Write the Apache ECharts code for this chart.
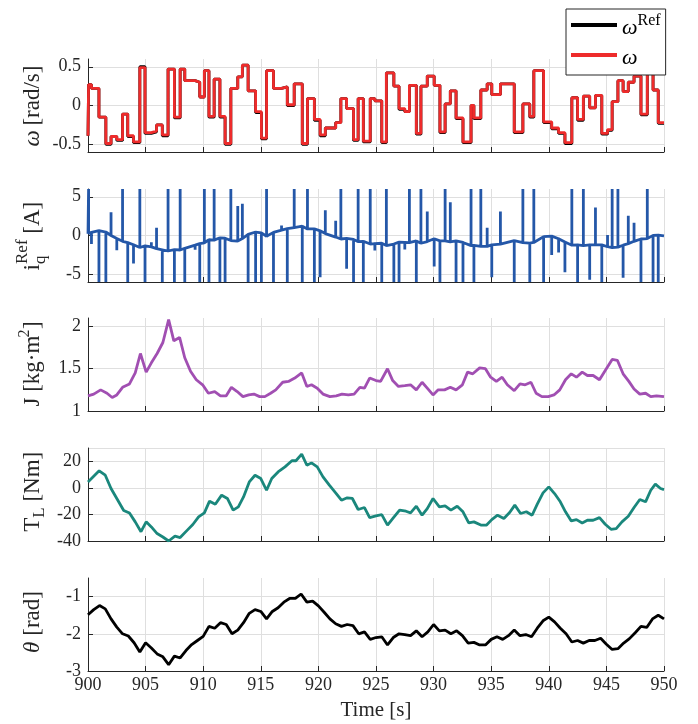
<!DOCTYPE html>
<html>
<head>
<meta charset="utf-8">
<script src="https://cdn.jsdelivr.net/npm/echarts@6/dist/echarts.min.js"></script>
<style>
  html, body { margin: 0; padding: 0; background: #fff; }
  #chart { width: 698px; height: 724px; }
</style>
</head>
<body>
<div id="chart"></div>
<script>
// ---- speed reference: start time of each constant step [s] and its level [rad/s]
const stepTimes = [900, 900.05, 900.3, 900.95, 901.55, 902.0, 902.5, 903.0, 903.45, 903.95,
  904.5, 904.95, 905.5, 905.95, 906.45, 906.95, 907.5, 908.0, 908.4, 909.3,
  909.7, 910.1, 910.5, 910.95, 911.45, 911.9, 912.4, 913.0, 913.4, 913.9,
  914.55, 915.05, 915.5, 916.1, 916.8, 917.3, 917.9, 918.6, 919.05, 919.65,
  920.15, 920.6, 921.5, 921.95, 922.45, 923.05, 923.45, 923.9, 924.5, 924.9,
  925.5, 925.9, 926.55, 927.0, 927.5, 927.9, 928.5, 928.9, 929.45, 930.05,
  930.55, 931.0, 931.45, 931.95, 932.55, 933.25, 933.5, 934.1, 934.65, 935.05,
  935.8, 937.0, 937.75, 938.35, 938.7, 939.55, 940.25, 940.85, 941.4, 942.0,
  942.5, 943.0, 943.55, 944.05, 944.6, 945.1, 945.5, 946.0, 946.45, 946.9,
  947.4, 948.0, 948.55, 949.05, 949.5];
const omegaRef = [-0.39, 0.27, 0.22, -0.15, -0.50, -0.40, -0.45, -0.11, -0.40, -0.48,
  0.50, -0.36, -0.34, -0.25, -0.39, 0.47, -0.16, 0.47, 0.32, 0.30,
  0.11, 0.45, -0.15, 0.34, -0.15, -0.50, 0.22, 0.37, 0.52, 0.19,
  -0.09, -0.43, 0.45, 0.22, 0.24, 0.00, 0.28, -0.50, 0.09, -0.19,
  -0.39, -0.29, -0.22, 0.09, -0.04, -0.45, 0.09, -0.47, 0.09, 0.06,
  -0.48, 0.42, 0.25, -0.05, -0.08, 0.26, -0.37, 0.25, 0.38, 0.26,
  -0.35, 0.02, 0.19, -0.17, -0.48, 0.00, -0.17, 0.20, 0.28, 0.14,
  0.28, -0.35, 0.02, -0.15, 0.45, -0.22, -0.30, -0.36, -0.49, 0.10,
  -0.19, 0.12, -0.03, 0.13, -0.37, -0.32, 0.05, 0.32, 0.18, 0.30,
  0.38, -0.12, 0.45, 0.20, -0.23];
// measured speed (tracks the reference closely)
const omegaMeas = [-0.39, 0.27, 0.22, -0.15, -0.49, -0.40, -0.44, -0.11, -0.39, -0.47,
  0.49, -0.35, -0.33, -0.25, -0.38, 0.47, -0.15, 0.47, 0.32, 0.30,
  0.11, 0.45, -0.14, 0.34, -0.14, -0.49, 0.22, 0.37, 0.52, 0.19,
  -0.08, -0.42, 0.45, 0.22, 0.24, 0.01, 0.28, -0.49, 0.09, -0.18,
  -0.38, -0.29, -0.22, 0.09, -0.04, -0.44, 0.09, -0.46, 0.09, 0.06,
  -0.47, 0.42, 0.25, -0.04, -0.08, 0.26, -0.36, 0.25, 0.38, 0.26,
  -0.34, 0.02, 0.19, -0.16, -0.47, 0.00, -0.16, 0.20, 0.28, 0.14,
  0.28, -0.34, 0.02, -0.14, 0.45, -0.21, -0.29, -0.35, -0.48, 0.10,
  -0.18, 0.12, -0.03, 0.13, -0.36, -0.31, 0.05, 0.32, 0.18, 0.30,
  0.38, -0.11, 0.45, 0.20, -0.22];

// ---- q-axis current reference [A]: level just before each step and the transient peak at the step
const iqBase = [0.22, 0.25, 0.4, 0.64, 0.45, 0.0, -0.4, -0.75, -0.92, -1.2,
  -1.55, -1.35, -1.47, -1.7, -1.85, -2.0, -1.83, -1.87, -1.65, -1.25,
  -1.05, -0.94, -0.55, -0.6, -0.3, -0.35, -0.65, -0.72, -0.4, 0.15,
  0.45, 0.35, -0.1, 0.4, 0.7, 0.88, 1.02, 1.2, 0.85, 0.85,
  0.6, 0.25, -0.2, -0.45, -0.37, -0.5, -0.8, -0.75, -1.1, -1.05,
  -1.0, -1.3, -1.1, -0.85, -0.88, -0.92, -0.7, -1.0, -0.78, -0.42,
  -0.7, -0.68, -0.82, -0.7, -0.9, -1.3, -1.28, -1.4, -1.4, -1.2,
  -1.1, -0.65, -0.92, -0.98, -0.9, -0.15, -0.08, -0.42, -0.85, -1.25,
  -1.2, -1.3, -1.22, -1.2, -1.2, -1.45, -1.55, -1.5, -1.25, -1.05,
  -0.75, -0.45, -0.4, 0.02, 0.05];
const iqPeak = [0.22, 6, -1.1, -6, -6, 3.0, -1.9, 6, -6, -3.6,
  6, -6, -0.87, 1.0, -6, 6, -6, 6, -6, -1.85,
  -6, 6, -6, 6, -6, -6, 6, 3.8, 4.1, -6,
  -6, -6, 6, -6, 1.3, -6, 6, -6, 6, -6,
  -5.4, 3.25, 1.9, 6, -4.3, -6, 6, -6, 6, -1.95,
  -6, 6, -6, -6, -1.8, 6, -6, 6, 3.1, -4.0,
  -6, 6, 4.3, -6, -6, 6, -6, 6, 1.0, -5.4,
  3.1, -6, 6, -6, 6, -6, -2.5, -2.2, -4.75, 6,
  -6, 6, -5.7, 3.6, -6, 0.05, 6, 6, -5.45, 2.55,
  1.65, -6, 6, -6, -6];
const iqEnd = -0.05;

// ---- estimated inertia J [kg·m²]
const jTimes = [900, 900.5, 901.1, 901.65, 902.1, 902.5, 903, 903.6, 904.1, 904.55,
  905.05, 905.5, 906, 906.5, 907, 907.45, 907.95, 908.4, 908.9, 909.4,
  909.95, 910.45, 911, 911.5, 912, 912.45, 912.95, 913.45, 913.95, 914.4,
  914.9, 915.35, 915.85, 916.3, 916.9, 917.4, 917.95, 918.55, 919, 919.4,
  919.9, 920.4, 921, 921.55, 922.05, 922.6, 923.1, 923.6, 924, 924.45,
  925, 925.4, 926, 926.45, 926.95, 927.5, 928, 928.5, 929, 929.45,
  929.95, 930.4, 930.95, 931.45, 931.95, 932.5, 932.95, 933.4, 934, 934.5,
  934.95, 935.45, 935.95, 936.4, 937, 937.5, 937.95, 938.45, 938.9, 939.4,
  939.95, 940.45, 940.95, 941.45, 941.95, 942.4, 942.9, 943.35, 943.85, 944.4,
  944.9, 945.5, 945.95, 946.45, 946.95, 947.4, 947.9, 948.4, 948.85, 949.35, 950];
const jValues = [1.18, 1.20, 1.25, 1.21, 1.16, 1.19, 1.28, 1.32, 1.45, 1.68,
  1.46, 1.57, 1.68, 1.81, 2.08, 1.83, 1.87, 1.63, 1.47, 1.37,
  1.31, 1.21, 1.23, 1.18, 1.18, 1.28, 1.23, 1.17, 1.19, 1.20,
  1.17, 1.17, 1.21, 1.25, 1.34, 1.35, 1.39, 1.45, 1.29, 1.31,
  1.27, 1.20, 1.17, 1.18, 1.20, 1.19, 1.20, 1.28, 1.27, 1.39,
  1.36, 1.35, 1.50, 1.36, 1.29, 1.30, 1.31, 1.25, 1.34, 1.27,
  1.19, 1.25, 1.25, 1.28, 1.25, 1.31, 1.46, 1.44, 1.51, 1.50,
  1.40, 1.35, 1.40, 1.31, 1.24, 1.32, 1.31, 1.34, 1.21, 1.17,
  1.17, 1.19, 1.25, 1.37, 1.44, 1.40, 1.46, 1.42, 1.42, 1.37,
  1.48, 1.61, 1.60, 1.44, 1.35, 1.26, 1.20, 1.21, 1.17, 1.18, 1.17];

// ---- load torque T_L [Nm]
const tlTimes = [900, 900.97, 901.5, 902, 902.5, 903.1, 903.6, 904.1, 904.6, 905.05,
  905.5, 906, 906.5, 907, 907.55, 908, 908.6, 909.1, 909.6, 910.1,
  910.55, 911.05, 911.6, 912.1, 912.6, 913.05, 913.5, 914, 914.5, 915,
  915.5, 915.95, 916.5, 917.1, 917.7, 918.05, 918.55, 919, 919.4, 919.9,
  920.4, 920.95, 921.55, 922, 922.5, 922.95, 923.45, 924, 924.45, 925,
  925.5, 926, 926.5, 927.05, 927.6, 928, 928.5, 929, 929.45, 929.95,
  930.5, 931, 931.5, 932.05, 932.55, 933.05, 933.5, 934.1, 934.6, 935.05,
  935.55, 936.1, 936.6, 937.05, 937.55, 938.05, 938.55, 939, 939.5, 940,
  940.5, 941, 941.45, 941.95, 942.4, 942.9, 943.35, 943.85, 944.4, 944.9,
  945.4, 945.85, 946.35, 946.9, 947.4, 947.9, 948.4, 948.85, 949.25, 949.7, 950];
const tlValues = [4.5, 12.8, 9.5, -0.5, -8, -17, -19, -25.6, -33, -25.6,
  -29.4, -34.4, -37, -40, -36.4, -37.4, -32, -27.6, -21.9, -18.8,
  -10, -12.3, -5.5, -8, -16.8, -14.3, -6.8, 4.5, 9.5, 7,
  -1.8, 7, 12, 15.8, 20.4, 20.4, 25.4, 17, 18.8, 15.8,
  8.3, 2, -4.3, -9.3, -7.5, -8, -16.3, -14.8, -22.4, -21.1,
  -20.1, -28, -22.6, -16.8, -17.6, -18.8, -13.8, -20.6, -15.6, -8,
  -14.3, -13.6, -16.8, -13.8, -18, -26.4, -25.6, -28, -28, -23.9,
  -20.6, -23.1, -18.6, -13, -19.3, -18, -20.6, -12.3, -3.8, 0.75,
  -4.3, -10.5, -18, -24.9, -23.9, -26.4, -24.4, -24.4, -22.4, -27.4,
  -31.2, -30.7, -25.6, -21.4, -14.8, -8.8, -10.5, -1.8, 2.8, -0.5, -1.3];

// ---- rotor angle θ [rad], sampled every 0.5 s from 900 s
const thetaStart = 900, thetaStep = 0.5;
const thetaValues = [-1.49, -1.35, -1.24, -1.33, -1.60, -1.82, -2.0, -2.06, -2.24, -2.49,
  -2.24, -2.38, -2.54, -2.62, -2.83, -2.60, -2.65, -2.45, -2.29, -2.18,
  -2.07, -1.80, -1.85, -1.70, -1.75, -2.0, -1.9, -1.7, -1.45, -1.35,
  -1.4, -1.6, -1.4, -1.3, -1.15, -1.05, -1.05, -0.93, -1.15, -1.12,
  -1.25, -1.42, -1.6, -1.73, -1.8, -1.75, -1.78, -2.0, -1.95, -2.15,
  -2.1, -2.08, -2.3, -2.1, -2.0, -2.02, -2.05, -1.92, -2.08, -1.95,
  -1.75, -1.92, -1.9, -2.0, -1.92, -2.05, -2.25, -2.23, -2.3, -2.3,
  -2.15, -2.08, -2.15, -2.05, -1.9, -2.05, -2.02, -2.08, -1.85, -1.65,
  -1.55, -1.68, -1.85, -2.0, -2.22, -2.18, -2.25, -2.18, -2.18, -2.12,
  -2.28, -2.42, -2.4, -2.25, -2.13, -1.97, -1.8, -1.83, -1.6, -1.5, -1.6];

// axis tick values
const timeMin = 900, timeMax = 950, timeTick = 5;
const omegaTicks = [-0.5, 0, 0.5];
const iqTicks = [-5, 0, 5];
const jTicks = [1, 1.5, 2];
const thetaTicks = [-3, -2, -1];

// ---------------- styling / layout ----------------
const FONT = '"Liberation Serif", "Times New Roman", Times, serif';
const AXIS = '#262626';
const GRIDC = '#dfdfdf';
const TOPS = [59, 189, 318, 448, 578];
const PLOT_H = 93;
const LW = 2.8;

const zip = (xs, ys) => xs.map((x, i) => [x, ys[i]]);

const omegaRefData = zip(stepTimes, omegaRef).concat([[timeMax, omegaRef[omegaRef.length - 1]]]);
const omegaMeasData = zip(stepTimes, omegaMeas).concat([[timeMax, omegaMeas[omegaMeas.length - 1]]]);

const iqData = [];
stepTimes.forEach((t, i) => {
  iqData.push([t, iqBase[i]]);
  if (iqPeak[i] !== iqBase[i]) {
    iqData.push([t, iqPeak[i]]);
    iqData.push([t, iqBase[i]]);
  }
});
iqData.push([timeMax, iqEnd]);

const thetaData = thetaValues.map((v, i) => [thetaStart + i * thetaStep, v]);

function xAxisCfg(i) {
  const last = i === 4;
  return {
    type: 'value', gridIndex: i, min: timeMin, max: timeMax, interval: timeTick,
    axisLine: { show: true, onZero: false, lineStyle: { color: AXIS, width: 1 } },
    axisTick: { show: true, inside: true, length: 5, lineStyle: { color: AXIS } },
    axisLabel: { show: last, color: AXIS, fontFamily: FONT, fontSize: 18, margin: 5 },
    splitLine: { show: true, lineStyle: { color: GRIDC, width: 1 } },
    name: last ? 'Time [s]' : '',
    nameLocation: 'middle', nameGap: 29,
    nameTextStyle: { color: AXIS, fontFamily: FONT, fontSize: 21 }
  };
}

function yAxisCfg(i, min, max, opts) {
  const cfg = {
    type: 'value', gridIndex: i, min: min, max: max,
    axisLine: { show: true, onZero: false, lineStyle: { color: AXIS, width: 1 } },
    axisTick: { show: true, inside: true, length: 5, lineStyle: { color: AXIS } },
    axisLabel: { color: AXIS, fontFamily: FONT, fontSize: 18, margin: 7 },
    splitLine: { show: true, lineStyle: { color: GRIDC, width: 1 } }
  };
  if (opts.ticks) {
    cfg.axisTick.customValues = opts.ticks;
    cfg.axisLabel.customValues = opts.ticks;
  }
  if (opts.interval) cfg.interval = opts.interval;
  return cfg;
}

// rotated y-axis titles built from text pieces (local x runs upward on screen)
function title(cx, cy, parts) {
  return {
    type: 'group', x: cx, y: cy, rotation: Math.PI / 2,
    children: parts.map(p => ({
      type: 'text', x: p.x, y: p.y || 0,
      style: {
        text: p.t, fill: AXIS, align: 'left', verticalAlign: 'middle',
        font: (p.it ? 'italic ' : '') + (p.s || 23) + 'px ' + FONT
      }
    }))
  };
}

const chart = echarts.init(document.getElementById('chart'), null, { renderer: 'canvas' });

chart.setOption({
  animation: false,
  backgroundColor: '#fff',
  grid: TOPS.map(t => ({ left: 88, width: 576, top: t, height: PLOT_H })),
  xAxis: [0, 1, 2, 3, 4].map(xAxisCfg),
  yAxis: [
    yAxisCfg(0, -0.6, 0.6, { ticks: omegaTicks }),
    yAxisCfg(1, -6, 6, { ticks: iqTicks }),
    yAxisCfg(2, 1, 2.1, { ticks: jTicks }),
    yAxisCfg(3, -40, 30, { interval: 20 }),
    yAxisCfg(4, -3, -0.5, { ticks: thetaTicks })
  ],
  legend: {
    data: ['omegaRef', 'omega'],
    orient: 'vertical', left: 566, top: 9,
    icon: 'rect', itemWidth: 46, itemHeight: 4, itemGap: 8,
    padding: [4, 5, 6, 5],
    backgroundColor: '#fff', borderColor: AXIS, borderWidth: 1, borderRadius: 0,
    formatter: n => n === 'omegaRef' ? '{w|ω}{sup|Ref}' : '{w|ω}',
    textStyle: {
      fontFamily: FONT, color: '#000',
      rich: {
        w: { fontFamily: FONT, fontStyle: 'italic', fontSize: 22, padding: [6, 0, 0, 0] },
        sup: { fontFamily: FONT, fontSize: 16, verticalAlign: 'bottom', padding: [0, 0, 10, 0] }
      }
    }
  },
  series: [
    { name: 'omegaRef', type: 'line', step: 'end', xAxisIndex: 0, yAxisIndex: 0,
      data: omegaRefData, symbol: 'none', lineStyle: { color: '#000', width: LW }, itemStyle: { color: '#000' } },
    { name: 'omega', type: 'line', step: 'end', xAxisIndex: 0, yAxisIndex: 0,
      data: omegaMeasData, symbol: 'none', lineStyle: { color: '#ee2b2b', width: LW }, itemStyle: { color: '#ee2b2b' } },
    { name: 'iqRef', type: 'line', xAxisIndex: 1, yAxisIndex: 1,
      data: iqData, symbol: 'none', lineStyle: { color: '#2457a8', width: LW } },
    { name: 'J', type: 'line', xAxisIndex: 2, yAxisIndex: 2,
      data: zip(jTimes, jValues), symbol: 'none', lineStyle: { color: '#a14fb2', width: LW } },
    { name: 'TL', type: 'line', xAxisIndex: 3, yAxisIndex: 3,
      data: zip(tlTimes, tlValues), symbol: 'none', lineStyle: { color: '#1a877c', width: LW } },
    { name: 'theta', type: 'line', xAxisIndex: 4, yAxisIndex: 4,
      data: thetaData, symbol: 'none', lineStyle: { color: '#000', width: LW } }
  ],
  graphic: [
    title(33, 106, [{ t: 'ω', x: -40.5, it: true }, { t: ' [rad/s]', x: -25.3 }]),
    title(33, 237, [{ t: 'i', x: -33.5 }, { t: 'q', x: -27, y: 8, s: 17 }, { t: 'Ref', x: -27, y: -10, s: 17 }, { t: ' [A]', x: -2.5 }]),
    title(33, 364, [{ t: 'J [kg·m', x: -42.5 }, { t: '2', x: 26.5, y: -8, s: 16 }, { t: ']', x: 35 }]),
    title(33, 492, [{ t: 'T', x: -39.7 }, { t: 'L', x: -25.7, y: 7, s: 17 }, { t: ' [Nm]', x: -15.3 }]),
    title(33, 622, [{ t: 'θ', x: -31, it: true }, { t: ' [rad]', x: -19.5 }])
  ]
});
</script>
</body>
</html>
